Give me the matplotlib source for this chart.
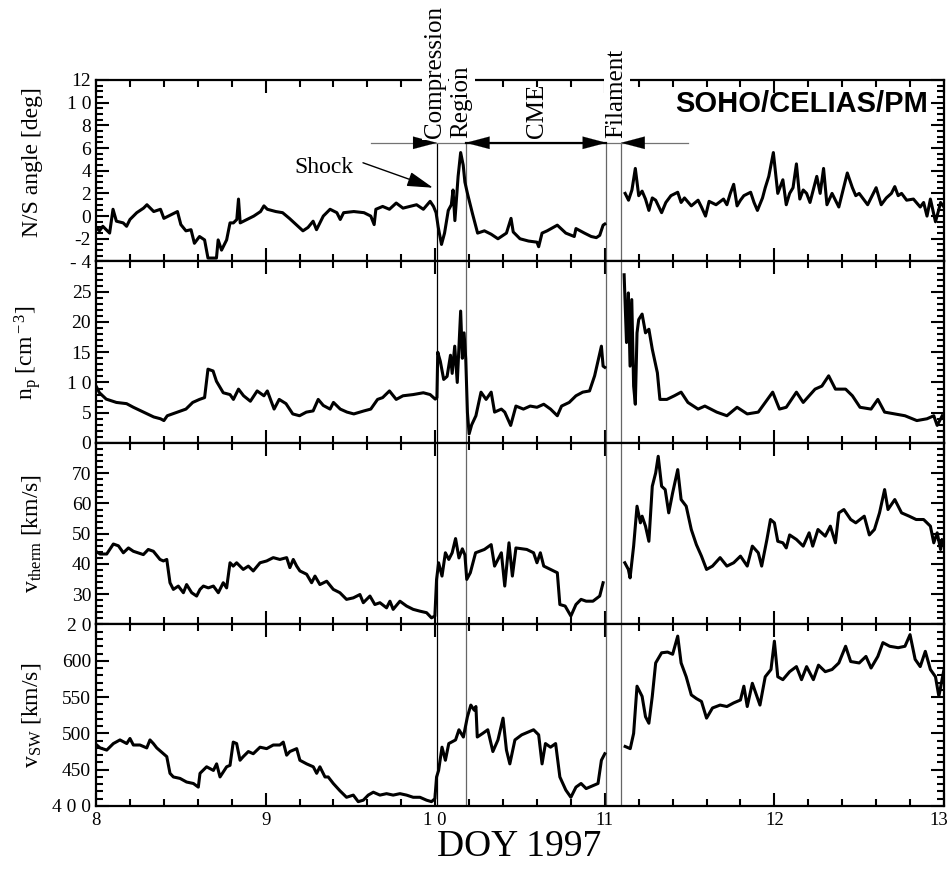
import numpy as np
import matplotlib
matplotlib.use('Agg')
import matplotlib.pyplot as plt
from matplotlib.ticker import MultipleLocator
from matplotlib.transforms import ScaledTranslation

plt.rcParams['font.family'] = ['Liberation Serif', 'DejaVu Serif']
plt.rcParams['mathtext.fontset'] = 'custom'
plt.rcParams['mathtext.rm'] = 'Liberation Serif'
plt.rcParams['mathtext.it'] = 'Liberation Serif:italic'

GAP = (11.05, np.nan)

# N/S angle [deg]
ns_angle = [
    (8.00, -1.0), (8.02, -1.3), (8.04, -0.9), (8.06, -1.2), (8.08, -1.5), (8.10, 0.6), (8.12, -0.45),
    (8.16, -0.6), (8.18, -0.9), (8.20, -0.3), (8.24, 0.3), (8.28, 0.7), (8.30, 1.0), (8.34, 0.4),
    (8.38, 0.6), (8.40, -0.2), (8.44, 0.1), (8.48, 0.4), (8.50, -0.75), (8.53, -1.3), (8.56, -1.2),
    (8.58, -2.4), (8.61, -1.8), (8.64, -2.1), (8.66, -3.7), (8.69, -3.7), (8.71, -3.7), (8.72, -2.1),
    (8.74, -3.0), (8.77, -2.1), (8.79, -0.6), (8.81, -0.6), (8.83, -0.3), (8.84, 1.5), (8.85, -0.6),
    (8.89, -0.3), (8.93, 0.0), (8.97, 0.4), (8.99, 0.9), (9.01, 0.6), (9.06, 0.4), (9.10, 0.3),
    (9.14, -0.2), (9.18, -0.75), (9.22, -1.3), (9.25, -1.0), (9.28, -0.45), (9.30, -1.2), (9.34, 0.0),
    (9.38, 0.6), (9.42, 0.3), (9.44, -0.3), (9.46, 0.3), (9.52, 0.4), (9.58, 0.3), (9.62, 0.0),
    (9.64, -0.75), (9.65, 0.6), (9.69, 0.85), (9.73, 0.6), (9.77, 1.15), (9.81, 0.7), (9.85, 0.85),
    (9.89, 1.0), (9.93, 0.6), (9.97, 1.3), (9.99, 0.85), (10.005, 0.3), (10.018, -1.0), (10.037, -2.5),
    (10.055, -1.5), (10.077, 0.5), (10.095, 1.0), (10.105, 2.3), (10.116, -0.4), (10.135, 3.5),
    (10.15, 5.6), (10.165, 4.5), (10.175, 3.0), (10.19, 2.0), (10.20, 1.4), (10.22, 0.2), (10.25, -1.5),
    (10.29, -1.3), (10.33, -1.6), (10.37, -2.0), (10.42, -1.5), (10.447, -0.2), (10.46, -1.4),
    (10.50, -2.0), (10.55, -2.2), (10.60, -2.3), (10.61, -2.7), (10.63, -1.5), (10.66, -1.3),
    (10.72, -0.8), (10.77, -1.5), (10.82, -1.8), (10.83, -1.1), (10.88, -1.5), (10.92, -1.8),
    (10.95, -1.9), (10.97, -1.7), (10.99, -0.8), (11.00, -0.7), GAP,
    (11.12, 2.0), (11.14, 1.4), (11.16, 2.3), (11.18, 4.2), (11.20, 1.8), (11.22, 2.2), (11.24, 1.5),
    (11.26, 0.5), (11.28, 1.6), (11.30, 1.4), (11.335, 0.3), (11.36, 1.2), (11.39, 1.8), (11.43, 2.1),
    (11.45, 1.2), (11.47, 1.6), (11.51, 0.9), (11.55, 1.4), (11.57, 0.8), (11.594, 0.0), (11.615, 1.3),
    (11.656, 1.0), (11.70, 1.5), (11.72, 1.0), (11.74, 2.0), (11.76, 2.8), (11.78, 0.9), (11.80, 1.4),
    (11.82, 1.8), (11.86, 2.1), (11.88, 1.2), (11.90, 0.5), (11.93, 1.6), (11.946, 2.5), (11.967, 3.5),
    (11.994, 5.6), (12.02, 2.0), (12.035, 2.6), (12.05, 3.2), (12.07, 1.0), (12.09, 2.0), (12.11, 2.5),
    (12.13, 4.6), (12.15, 1.5), (12.17, 2.3), (12.19, 2.0), (12.21, 1.2), (12.25, 3.5), (12.27, 2.0),
    (12.29, 4.2), (12.31, 1.0), (12.34, 2.0), (12.36, 1.4), (12.38, 0.8), (12.40, 2.0), (12.43, 3.8),
    (12.46, 2.5), (12.48, 1.8), (12.50, 2.0), (12.53, 1.4), (12.55, 1.0), (12.57, 1.6), (12.60, 2.5),
    (12.63, 1.0), (12.66, 1.6), (12.69, 2.0), (12.71, 2.6), (12.73, 1.8), (12.75, 2.0), (12.78, 1.4),
    (12.82, 1.5), (12.86, 0.8), (12.88, 1.2), (12.90, 0.0), (12.92, 1.5), (12.95, -0.5), (12.97, 0.6),
    (12.98, 1.2), (13.00, 0.8),
]

# proton density [cm^-3]
n_p = [
    (8.00, 9.4), (8.02, 8.3), (8.06, 7.25), (8.12, 6.7), (8.18, 6.5), (8.22, 5.9), (8.28, 5.1),
    (8.34, 4.3), (8.38, 4.0), (8.40, 3.7), (8.42, 4.5), (8.48, 5.1), (8.53, 5.6), (8.57, 6.7),
    (8.61, 7.2), (8.64, 7.5), (8.66, 12.2), (8.69, 11.9), (8.71, 10.2), (8.75, 8.3), (8.79, 8.0),
    (8.81, 7.2), (8.84, 8.9), (8.87, 7.8), (8.91, 6.9), (8.95, 8.6), (8.99, 7.8), (9.01, 8.6),
    (9.05, 5.6), (9.08, 7.2), (9.12, 6.5), (9.16, 4.8), (9.20, 4.5), (9.24, 5.1), (9.28, 5.3),
    (9.31, 7.2), (9.34, 6.2), (9.38, 5.6), (9.40, 6.7), (9.44, 5.6), (9.48, 5.1), (9.52, 4.8),
    (9.58, 5.3), (9.62, 5.6), (9.66, 7.2), (9.69, 7.5), (9.73, 8.6), (9.77, 7.2), (9.81, 7.8),
    (9.87, 8.0), (9.93, 8.3), (9.97, 8.0), (10.00, 7.25), (10.01, 7.5),
    (10.015, 15.0), (10.03, 13.5), (10.05, 10.5), (10.07, 11.0), (10.09, 14.5), (10.10, 11.5),
    (10.115, 16.0), (10.13, 10.0), (10.15, 21.8), (10.16, 14.0), (10.17, 18.2), (10.18, 13.9),
    (10.19, 5.0), (10.20, 1.5), (10.215, 3.0),
    (10.24, 4.5), (10.27, 8.4), (10.30, 7.2), (10.33, 8.4), (10.35, 5.1), (10.39, 5.6), (10.41, 5.1),
    (10.445, 2.9), (10.476, 6.1), (10.52, 5.6), (10.56, 6.1), (10.60, 5.9), (10.64, 6.4), (10.68, 5.6),
    (10.72, 4.5), (10.745, 6.1), (10.79, 6.7), (10.83, 7.8), (10.87, 8.4), (10.91, 8.6), (10.94, 11.1),
    (10.98, 16.0), (10.99, 12.7), (11.00, 12.5), GAP,
    (11.114, 27.8), (11.128, 16.6), (11.139, 24.8), (11.149, 12.7), (11.159, 23.7), (11.17, 9.4),
    (11.18, 6.4), (11.19, 18.2), (11.20, 20.4), (11.22, 21.3), (11.24, 18.2), (11.26, 18.8),
    (11.28, 15.5), (11.31, 11.6), (11.325, 7.2), (11.366, 7.2), (11.41, 7.8), (11.45, 8.4),
    (11.49, 6.7), (11.55, 5.6), (11.59, 6.1), (11.66, 5.1), (11.72, 4.5), (11.78, 5.9), (11.84, 4.8),
    (11.905, 5.1), (11.99, 8.4), (12.03, 5.6), (12.07, 5.9), (12.13, 8.4), (12.17, 6.7), (12.24, 8.9),
    (12.28, 9.4), (12.32, 11.1), (12.36, 8.9), (12.42, 8.9), (12.46, 7.8), (12.505, 5.9), (12.57, 5.6),
    (12.61, 7.2), (12.65, 5.1), (12.71, 4.8), (12.77, 4.5), (12.84, 3.7), (12.90, 4.0), (12.94, 4.5),
    (12.96, 2.9), (12.99, 4.5),
]

# thermal speed [km/s]
v_therm = [
    (8.004, 44.0), (8.024, 43.3), (8.063, 43.3), (8.083, 45.0), (8.102, 46.6), (8.132, 46.0),
    (8.161, 43.7), (8.191, 45.3), (8.22, 44.2), (8.279, 43.1), (8.308, 44.8), (8.338, 44.2),
    (8.377, 41.5), (8.397, 41.0), (8.417, 41.5), (8.436, 33.8), (8.456, 31.6), (8.485, 32.7),
    (8.515, 30.5), (8.534, 33.2), (8.564, 30.5), (8.593, 29.4), (8.613, 31.6), (8.633, 32.7),
    (8.662, 32.1), (8.692, 32.7), (8.721, 30.5), (8.75, 33.8), (8.77, 32.1), (8.79, 40.4),
    (8.809, 39.3), (8.829, 40.4), (8.868, 38.2), (8.898, 39.3), (8.927, 37.7), (8.967, 40.4),
    (9.006, 41.0), (9.045, 42.1), (9.084, 41.5), (9.124, 42.1), (9.143, 38.8), (9.163, 41.5),
    (9.183, 39.3), (9.202, 37.7), (9.242, 36.6), (9.271, 33.8), (9.291, 36.0), (9.32, 33.2),
    (9.36, 34.3), (9.399, 31.6), (9.438, 30.5), (9.477, 28.3), (9.517, 28.8), (9.556, 29.9),
    (9.576, 27.2), (9.615, 29.4), (9.644, 26.6), (9.674, 27.2), (9.713, 25.5), (9.733, 27.7),
    (9.752, 25.0), (9.792, 27.7), (9.831, 26.1), (9.87, 25.0), (9.91, 24.4), (9.949, 23.9),
    (9.978, 22.2), (9.998, 22.8), (10.008, 34.9),
    (10.02, 40.4), (10.04, 36.0), (10.06, 43.7), (10.08, 41.5), (10.10, 43.7), (10.12, 48.4),
    (10.14, 42.0), (10.16, 45.0), (10.175, 43.0),
    (10.186, 34.9), (10.207, 37.1), (10.238, 43.7), (10.29, 44.8), (10.33, 46.4), (10.35, 39.3),
    (10.39, 43.7), (10.41, 32.7), (10.435, 47.0), (10.455, 36.0), (10.476, 45.3), (10.54, 44.8),
    (10.58, 43.7), (10.60, 40.4), (10.62, 43.7), (10.64, 39.3), (10.68, 38.2), (10.72, 37.1),
    (10.735, 26.6), (10.766, 26.1), (10.80, 22.8), (10.83, 26.6), (10.86, 28.3), (10.89, 27.7),
    (10.93, 27.7), (10.97, 29.4), (10.99, 33.8), GAP,
    (11.118, 40.4), (11.139, 38.2), (11.149, 35.4), (11.17, 45.9), (11.19, 59.1), (11.21, 53.6),
    (11.22, 55.8), (11.24, 52.5), (11.26, 47.5), (11.28, 65.7), (11.30, 70.1), (11.315, 75.6),
    (11.335, 65.7), (11.356, 64.6), (11.377, 56.9), (11.40, 63.5), (11.43, 71.2), (11.45, 61.3),
    (11.48, 59.1), (11.51, 51.4), (11.54, 46.4), (11.57, 42.6), (11.60, 38.2), (11.635, 39.3),
    (11.68, 42.1), (11.72, 39.3), (11.76, 40.4), (11.80, 42.6), (11.84, 39.3), (11.87, 45.9),
    (11.905, 43.7), (11.925, 39.3), (11.956, 48.1), (11.977, 54.7), (12.00, 53.6), (12.02, 47.5),
    (12.05, 47.0), (12.07, 45.3), (12.09, 49.6), (12.13, 48.1), (12.17, 45.9), (12.205, 50.3),
    (12.226, 45.9), (12.257, 51.4), (12.30, 49.2), (12.33, 52.5), (12.36, 47.0), (12.38, 56.9),
    (12.41, 58.0), (12.45, 54.7), (12.48, 53.6), (12.53, 55.8), (12.56, 49.6), (12.59, 51.4),
    (12.62, 56.9), (12.65, 64.6), (12.67, 58.0), (12.71, 61.3), (12.75, 56.9), (12.795, 55.8),
    (12.836, 54.7), (12.88, 54.7), (12.92, 52.5), (12.94, 47.0), (12.96, 50.3), (12.98, 44.8),
    (12.99, 48.0),
]

# solar wind speed [km/s]
v_sw = [
    (8.004, 484), (8.024, 480), (8.063, 477), (8.102, 486), (8.141, 491), (8.181, 486), (8.20, 493),
    (8.22, 484), (8.259, 484), (8.299, 480), (8.318, 491), (8.338, 486), (8.358, 480), (8.397, 472),
    (8.417, 468), (8.436, 445), (8.456, 440), (8.495, 438), (8.534, 433), (8.574, 431), (8.603, 426),
    (8.613, 445), (8.652, 454), (8.692, 449), (8.711, 458), (8.731, 440), (8.77, 454), (8.79, 456),
    (8.809, 488), (8.829, 486), (8.849, 463), (8.868, 468), (8.898, 475), (8.927, 472), (8.967, 481),
    (9.006, 479), (9.045, 484), (9.084, 484), (9.104, 488), (9.124, 470), (9.143, 475), (9.183, 479),
    (9.202, 463), (9.242, 458), (9.281, 454), (9.301, 445), (9.32, 454), (9.35, 440), (9.369, 440),
    (9.399, 431), (9.438, 421), (9.477, 412), (9.517, 415), (9.546, 406), (9.576, 408), (9.605, 415),
    (9.635, 419), (9.674, 415), (9.713, 417), (9.752, 415), (9.792, 417), (9.831, 415), (9.87, 412),
    (9.91, 412), (9.949, 408), (9.978, 406), (9.998, 410), (10.008, 440),
    (10.02, 449), (10.04, 481), (10.06, 463), (10.08, 486), (10.12, 491), (10.14, 505), (10.166, 495),
    (10.19, 523), (10.21, 539),
    (10.23, 532), (10.24, 537), (10.248, 495), (10.28, 500), (10.31, 505), (10.34, 475), (10.37, 491),
    (10.40, 521), (10.42, 477), (10.44, 458), (10.47, 491), (10.51, 498), (10.55, 502), (10.58, 505),
    (10.61, 498), (10.63, 458), (10.65, 486), (10.68, 481), (10.71, 486), (10.735, 440), (10.77, 422),
    (10.80, 412), (10.83, 426), (10.86, 431), (10.89, 424), (10.93, 428), (10.96, 431), (10.98, 463),
    (11.00, 472), GAP,
    (11.12, 482), (11.15, 479), (11.17, 500), (11.19, 565), (11.22, 551), (11.24, 523), (11.26, 514),
    (11.28, 551), (11.30, 597), (11.335, 611), (11.37, 612), (11.40, 609), (11.43, 634), (11.45, 597),
    (11.48, 578), (11.51, 553), (11.54, 548), (11.57, 544), (11.60, 521), (11.635, 535), (11.68, 539),
    (11.72, 537), (11.76, 542), (11.80, 546), (11.82, 565), (11.84, 537), (11.87, 569), (11.915, 539),
    (11.946, 578), (11.98, 588), (12.00, 627), (12.02, 578), (12.05, 574), (12.09, 585), (12.13, 592),
    (12.16, 574), (12.19, 592), (12.23, 574), (12.26, 594), (12.30, 585), (12.34, 588), (12.38, 597),
    (12.42, 620), (12.45, 599), (12.50, 597), (12.54, 606), (12.57, 590), (12.61, 606), (12.64, 625),
    (12.68, 620), (12.73, 618), (12.77, 620), (12.80, 636), (12.83, 602), (12.86, 592), (12.89, 613),
    (12.92, 588), (12.95, 578), (12.97, 551), (13.00, 588),
]

ylabels = ['N/S angle [deg]', r'n$_{\rm p}$ [cm$^{\rm -3}$]',
           r'v$_{\rm therm}$ [km/s]', r'v$_{\rm SW}$ [km/s]']
ylims = [(-4, 12), (0, 30), (20, 80), (400, 650)]
ytick_vals = [[12, 10, 8, 6, 4, 2, 0, -2, -4], [25, 20, 15, 10, 5, 0],
              [70, 60, 50, 40, 30, 20], [600, 550, 500, 450, 400]]
ytick_text = [['12', '1 0', '8', '6', '4', '2', '0', '-2', '- 4'],
              ['25', '20', '15', '1 0', '5', '0'],
              ['70', '60', '50', '40', '30', '2 0'],
              ['600', '550', '500', '450', '4 0 0']]
yminor = [0.5, 1, 2, 10]
xtick_vals = [8, 9, 10, 11, 12, 13]
xtick_text = ['8', '9', '1 0', '11', '12', '13']

# boundaries: shock, end of compression region, filament edges
shock_t = 10.01
bounds_t = [10.18, 11.01, 11.095]
arrow_y = 6.46

fig, axes = plt.subplots(4, 1, sharex=True, figsize=(9.51, 8.69), dpi=100)
fig.subplots_adjust(left=0.101, right=0.9926, top=0.908, bottom=0.0725, hspace=0)

series = [ns_angle, n_p, v_therm, v_sw]
for i, ax in enumerate(axes):
    d = np.array(series[i], dtype=float)
    ax.plot(d[:, 0], d[:, 1], color='k', lw=2.2, zorder=3)
    ax.set_xlim(8, 13)
    ax.set_ylim(*ylims[i])
    ax.set_yticks(ytick_vals[i], ytick_text[i])
    ax.yaxis.set_minor_locator(MultipleLocator(yminor[i]))
    ax.xaxis.set_minor_locator(MultipleLocator(0.2))
    ax.tick_params(which='both', direction='in', top=True, right=True, width=1.5, labelsize=14)
    ax.tick_params(which='major', length=9.5)
    ax.tick_params(which='minor', length=5)
    for s in ax.spines.values():
        s.set_linewidth(1.6)
    ax.set_ylabel(ylabels[i], fontsize=17)
    ax.yaxis.set_label_coords(-0.062, 0.5 if i else 0.55)
    if i == 0:
        ax.vlines(shock_t, ylims[0][0], arrow_y, color='k', lw=0.9, zorder=2)
        ax.vlines(bounds_t, ylims[0][0], arrow_y, color='0.4', lw=0.9, zorder=2)
    else:
        ax.axvline(shock_t, color='k', lw=0.9, zorder=2)
        for b in bounds_t:
            ax.axvline(b, color='0.4', lw=0.9, zorder=2)

axes[-1].set_xticks(xtick_vals, xtick_text)
axes[-1].tick_params(axis='x', pad=4, labelsize=13.5)
last = axes[-1].get_xticklabels()[-1]
last.set_transform(last.get_transform() + ScaledTranslation(-0.05, 0, fig.dpi_scale_trans))

ax = axes[0]
# region arrows
ax.plot([9.62, 11.49], [arrow_y, arrow_y], color='0.45', lw=0.9, zorder=2)
ax.plot([bounds_t[0], bounds_t[1]], [arrow_y, arrow_y], color='k', lw=1.6, zorder=2)
head = dict(arrowstyle='-|>,head_length=1.7,head_width=0.45', color='k', lw=0.1,
            shrinkA=0, shrinkB=0, mutation_scale=10)
for tip, back in [(shock_t, shock_t - 0.14), (bounds_t[0], bounds_t[0] + 0.14),
                  (bounds_t[1], bounds_t[1] - 0.14), (bounds_t[2], bounds_t[2] + 0.14)]:
    ax.annotate('', xy=(tip, arrow_y), xytext=(back, arrow_y), arrowprops=head, zorder=4)

box = dict(facecolor='white', edgecolor='none', pad=1.5)
ax.text(9.996, 6.9, 'Compression', rotation=90, ha='center', va='bottom', fontsize=18, bbox=box, zorder=5)
ax.text(10.155, 6.9, 'Region', rotation=90, ha='center', va='bottom', fontsize=18, bbox=box, zorder=5)
ax.text(10.6, 6.9, 'CME', rotation=90, ha='center', va='bottom', fontsize=18, zorder=5)
ax.text(11.07, 6.9, 'Filament', rotation=90, ha='center', va='bottom', fontsize=18, bbox=box, zorder=5)

ax.annotate('', xy=(9.987, 2.5), xytext=(9.574, 4.7),
            arrowprops=dict(arrowstyle='-|>,head_length=1.6,head_width=0.45', color='k', lw=1.0,
                            shrinkA=0, shrinkB=0, mutation_scale=10))
ax.text(9.344, 4.26, 'Shock', ha='center', va='center', fontsize=17)

fig.text(928 / 951, 1 - 104 / 869, 'SOHO/CELIAS/PM', ha='right', va='center',
         fontsize=21, fontweight='bold', family='Liberation Sans', zorder=5)

fig.text(519 / 951, 1 - 847 / 869, 'DOY 1997', ha='center', va='center', fontsize=27)

fig.savefig('out.png', dpi=100)
